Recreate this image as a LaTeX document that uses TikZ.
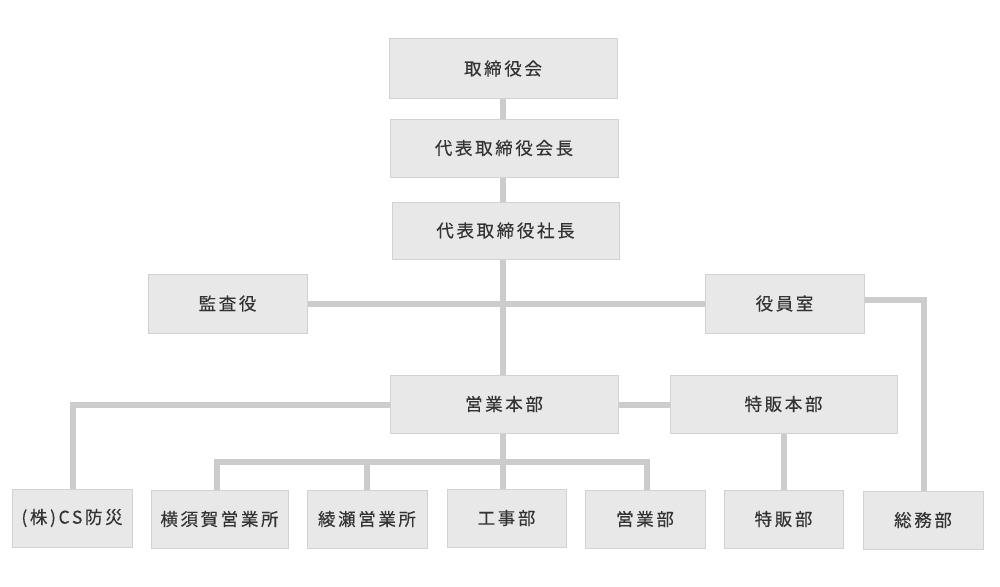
\documentclass[tikz,border=0pt]{standalone}
\usepackage{fontspec}
\newfontfamily\jp[LetterSpace=15,FakeBold=0.3]{Noto Sans CJK JP}
\usetikzlibrary{backgrounds}
\definecolor{boxfill}{HTML}{E8E8E8}
\definecolor{boxline}{HTML}{D2D2D2}
\definecolor{conn}{HTML}{CCCCCC}
\definecolor{txt}{HTML}{333333}
\tikzset{
  org/.style={draw=boxline, fill=boxfill, line width=1pt, rectangle, inner sep=0pt,
    text=txt, font=\jp\fontsize{17.5}{20}\selectfont},
  link/.style={draw=conn, line width=6pt}
}
\begin{document}
\begin{tikzpicture}[x=1pt,y=-1pt]
\useasboundingbox (0,0) rectangle (1000,586);
\node[org, minimum width=228pt, minimum height=59pt] (A) at (503,68.5) {取締役会};
\node[org, minimum width=228pt, minimum height=58pt] (B) at (504,148) {代表取締役会長};
\node[org, minimum width=227pt, minimum height=57pt] (C) at (505.5,230.5) {代表取締役社長};
\node[org, minimum width=159pt, minimum height=59pt] (D) at (227.5,303.5) {監査役};
\node[org, minimum width=159pt, minimum height=59pt] (E) at (784.5,303.5) {役員室};
\node[org, minimum width=228pt, minimum height=58pt] (F) at (504,404) {営業本部};
\node[org, minimum width=227pt, minimum height=58pt] (G) at (783.5,404) {特販本部};
\node[org, minimum width=120pt, minimum height=58pt] (H) at (72,518) {(株)CS防災};
\node[org, minimum width=137pt, minimum height=58pt] (I) at (219.5,519) {横須賀営業所};
\node[org, minimum width=120pt, minimum height=58pt] (J) at (367,519) {綾瀬営業所};
\node[org, minimum width=119pt, minimum height=58pt] (K) at (506.5,518) {工事部};
\node[org, minimum width=120pt, minimum height=58pt] (L) at (645,519) {営業部};
\node[org, minimum width=119pt, minimum height=58pt] (M) at (783.5,519) {特販部};
\node[org, minimum width=120pt, minimum height=58pt] (N) at (923,520) {総務部};
\coordinate (t) at (503,0);
\coordinate (nr) at (924,300);
\coordinate (b1) at (217,462);
\coordinate (b2) at (367,462);
\coordinate (b3) at (647,462);
\coordinate (hl) at (73,405);
\coordinate (gm) at (784,405);
\begin{scope}[on background layer]
\fill[white] (0,0) rectangle (1000,586);
\draw[link] (A.south -| t) -- (B.north -| t);
\draw[link] (B.south -| t) -- (C.north -| t);
\draw[link] (C.south -| t) -- (F.north -| t);
\draw[link] (D.east) -- (E.west);
\draw[link] (E.east |- nr) -- (nr) -- (nr |- N.north);
\draw[link] (F.west |- hl) -- (hl) -- (hl |- H.north);
\draw[link] (F.east |- hl) -- (G.west |- hl);
\draw[link] (G.south -| gm) -- (gm |- M.north);
\draw[link] (F.south -| t) -- (t |- K.north);
\draw[link] (b1 |- I.north) -- (b1) -- (b3) -- (b3 |- L.north);
\draw[link] (b2) -- (b2 |- J.north);
\end{scope}
\end{tikzpicture}
\end{document}
